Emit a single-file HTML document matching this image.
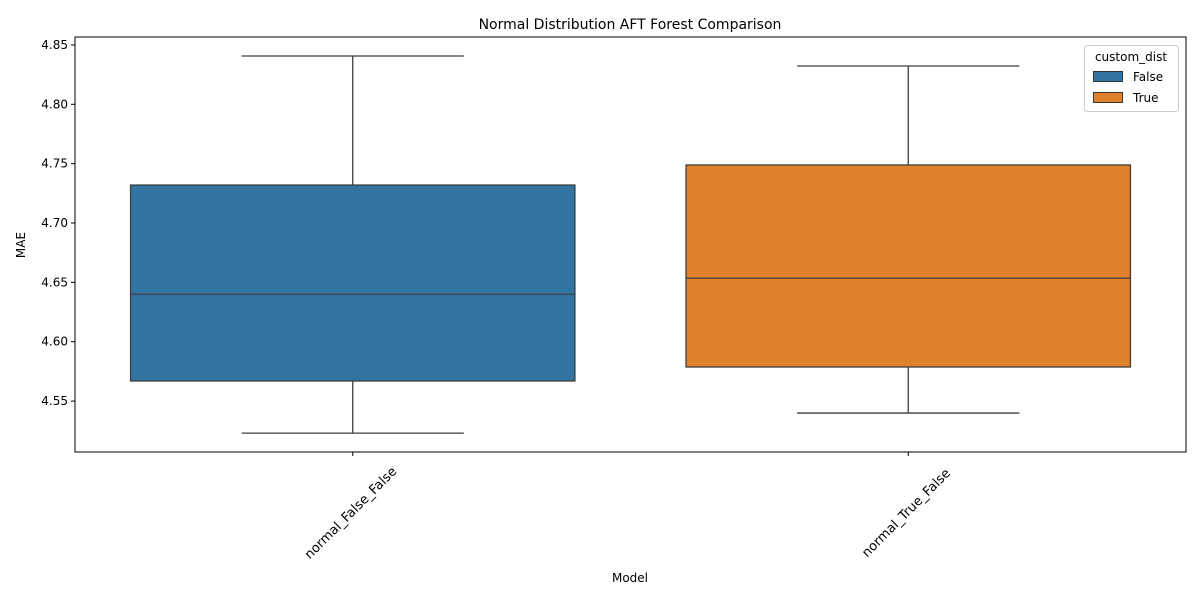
<!DOCTYPE html>
<html><head><meta charset="utf-8"><style>
body{margin:0;background:#fff;font-family:"DejaVu Sans","Liberation Sans",sans-serif;}
svg text{font-family:"DejaVu Sans","Liberation Sans",sans-serif;fill:#000;}
</style></head><body>
<svg id="chart" width="1200" height="600" xmlns="http://www.w3.org/2000/svg">
<rect width="1200" height="600" fill="#fff"/>
<text x="630" y="29" font-size="14" text-anchor="middle">Normal Distribution AFT Forest Comparison</text>
<g id="plot"></g>
<rect x="75" y="37" width="1111" height="415" fill="none" stroke="#000" stroke-width="1"/>
<text x="630" y="582" font-size="12" text-anchor="middle">Model</text>
<text transform="translate(25,245) rotate(-90)" font-size="12" text-anchor="middle">MAE</text>
<g>
<rect x="1084.5" y="45.5" width="94" height="66" rx="3" fill="#fff" stroke="#ccc"/>
<text x="1131" y="61" font-size="12" text-anchor="middle">custom_dist</text>
<rect x="1093.5" y="71.5" width="29" height="10" fill="#3274a1" stroke="#333"/>
<text x="1133" y="81" font-size="12">False</text>
<rect x="1093.5" y="92.5" width="29" height="10" fill="#e1812c" stroke="#333"/>
<text x="1133" y="102" font-size="12">True</text>
</g>
</svg>
<script>
const categories=["normal_False_False","normal_True_False"];
const mins=[4.523,4.5399];
const q1s=[4.5669,4.5787];
const medians=[4.640,4.6536];
const q3s=[4.732,4.7489];
const maxs=[4.8407,4.8323];
const colors=["#3274a1","#e1812c"];
const yTicks=[4.55,4.60,4.65,4.70,4.75,4.80,4.85];
const NS="http://www.w3.org/2000/svg";
const L=75,R=1186,T=37,B=452,yMin=4.5071,yMax=4.8567;
const y=v=>B-(v-yMin)/(yMax-yMin)*(B-T);
const band=(R-L)/categories.length;
const x=i=>L+band*(i+0.5);
const g=document.getElementById('plot');
function mk(tag,attrs){const e=document.createElementNS(NS,tag);for(const k in attrs)e.setAttribute(k,attrs[k]);g.appendChild(e);return e;}
yTicks.forEach(t=>{
  const ln=mk('line',{x1:L-4,x2:L,y1:y(t),y2:y(t),stroke:'#000'});
  
  
  const tx=mk('text',{x:L-7,y:y(t)+4,'font-size':12,'text-anchor':'end'});
  tx.textContent=t.toFixed(2);
  
  
});
categories.forEach((c,i)=>{
  const cx=x(i),w=band*0.8,cw=w/2;
  const s='#3f3f3f';
  const w1=mk('line',{x1:cx,x2:cx,y1:y(q3s[i]),y2:y(maxs[i]),stroke:s,'stroke-width':1.3});
  
  
  const w2=mk('line',{x1:cx,x2:cx,y1:y(q1s[i]),y2:y(mins[i]),stroke:s,'stroke-width':1.3});
  
  
  const c1=mk('line',{x1:cx-cw/2,x2:cx+cw/2,y1:y(maxs[i]),y2:y(maxs[i]),stroke:s,'stroke-width':1.3});
  
  
  const c2=mk('line',{x1:cx-cw/2,x2:cx+cw/2,y1:y(mins[i]),y2:y(mins[i]),stroke:s,'stroke-width':1.3});
  
  
  const bx=mk('rect',{x:cx-w/2,y:y(q3s[i]),width:w,height:y(q1s[i])-y(q3s[i]),fill:colors[i],stroke:s,'stroke-width':1.3});
  
  
  const md=mk('line',{x1:cx-w/2,x2:cx+w/2,y1:y(medians[i]),y2:y(medians[i]),stroke:s,'stroke-width':1.3});
  
  
  const tk=mk('line',{x1:cx,x2:cx,y1:B,y2:B+4,stroke:'#000'});
  
  
  const tl=mk('text',{'font-size':13,'text-anchor':'middle',transform:`translate(${cx-2},${B+61}) rotate(-45)`,y:4});
  tl.textContent=c;
  
  
});
</script>
</body></html>
